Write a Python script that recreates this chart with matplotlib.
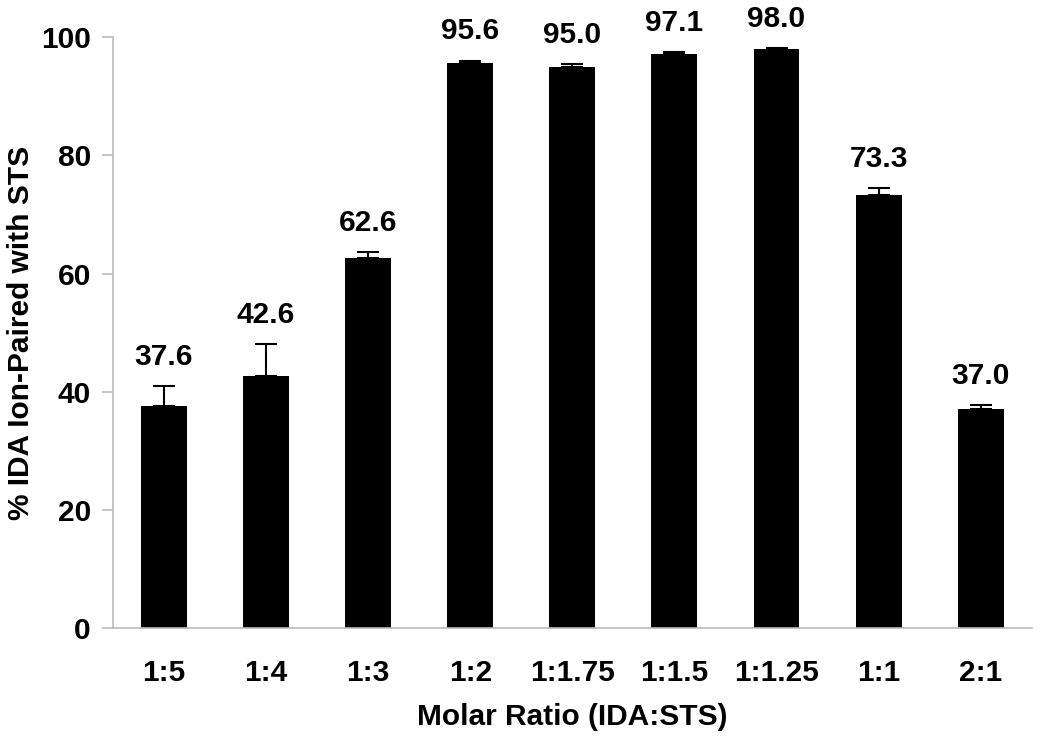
import matplotlib
matplotlib.use('Agg')
import matplotlib.pyplot as plt
import numpy as np

# molar ratio categories and % ion-paired values
ratios = ['1:5', '1:4', '1:3', '1:2', '1:1.75', '1:1.5', '1:1.25', '1:1', '2:1']
paired = [37.6, 42.6, 62.6, 95.6, 95.0, 97.1, 98.0, 73.3, 37.0]
errors = [3.4, 5.4, 1.0, 0.4, 0.4, 0.4, 0.1, 1.1, 0.7]

plt.rcParams['font.family'] = ['Liberation Sans', 'DejaVu Sans']
plt.rcParams['font.weight'] = 'bold'
fs = 21.5

fig = plt.figure(figsize=(10.5, 7.4), dpi=100)
ax = fig.add_axes([0.1076, 0.151, 0.875, 0.799])

x = np.arange(len(ratios))
ax.bar(x, paired, width=0.45, color='black', zorder=2)
ax.errorbar(x, paired, yerr=[np.zeros(len(errors)), errors], fmt='none',
            ecolor='black', elinewidth=1.5, capsize=8, capthick=1.5, zorder=3)

# value labels above the error bars
for xi, v, e in zip(x, paired, errors):
    ax.annotate('%.1f' % v, (xi, v + e), xytext=(0, 11), textcoords='offset points',
                ha='center', va='bottom', fontsize=fs, fontweight='bold')

ax.set_xlim(-0.5, len(ratios) - 0.5)
ax.set_ylim(0, 100)
ax.set_yticks([0, 20, 40, 60, 80, 100])
ax.set_xticks(x)
ax.set_xticklabels(ratios)

for s in ['top', 'right']:
    ax.spines[s].set_visible(False)
for s in ['left', 'bottom']:
    ax.spines[s].set_color('#bbbbbb')
    ax.spines[s].set_linewidth(1.2)

ax.tick_params(axis='y', direction='out', length=8, color='#bbbbbb', width=1.2,
               labelsize=fs, pad=8)
ax.tick_params(axis='x', length=0, labelsize=fs, pad=22)

ax.set_xlabel('Molar Ratio (IDA:STS)', fontsize=fs, fontweight='bold', labelpad=12)
ax.set_ylabel('% IDA Ion-Paired with STS', fontsize=fs, fontweight='bold', labelpad=4)

plt.savefig('out.png', dpi=100)
